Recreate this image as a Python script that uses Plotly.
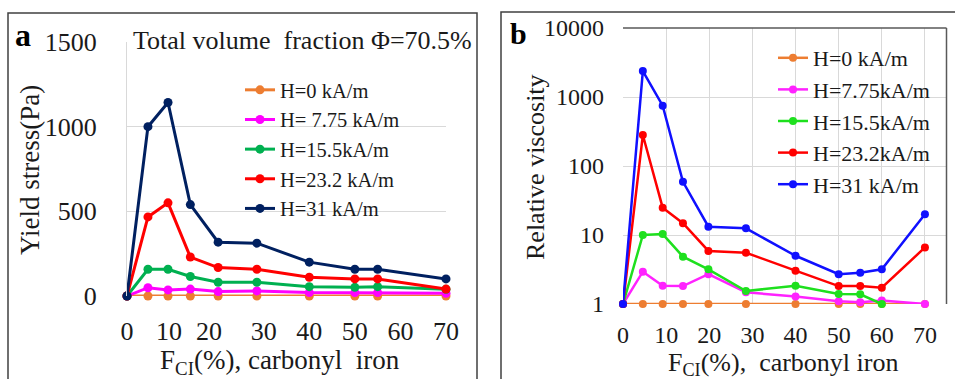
import plotly.graph_objects as go

# ---------------- data ----------------
# panel a : yield stress (Pa)
A_X = [0, 4.6, 9.0, 13.9, 20, 28.5, 40, 50, 55, 70]
A_H0 = [0, 0, 0, 0, 0, 0, 0, 0, 0, 0]
A_H775 = [0, 49, 36, 41, 26, 30, 20, 20, 20, 16]
A_H155 = [0, 158, 158, 115, 81, 81, 55, 51, 55, 40]
A_H232 = [0, 467, 550, 230, 168, 158, 111, 101, 101, 41]
A_H31 = [0, 1000, 1143, 540, 318, 312, 200, 158, 158, 101]
A_NAMES = ["H=0 kA/m", "H= 7.75 kA/m", "H=15.5kA/m", "H=23.2 kA/m", "H=31 kA/m"]
A_XTICK_VALS = [0, 9.2, 18, 30, 40, 50, 60, 70]
A_XTICK_TEXT = ["0", "10", "20", "30", "40", "50", "60", "70"]
A_YTICKS = [0, 500, 1000, 1500]

# panel b : relative viscosity
B_X = [0, 4.6, 9.2, 13.9, 19.8, 28.5, 40, 50, 55, 60, 70]
B_H0 = [1, 1, 1, 1, 1, 1, 1, 1, 1, 1, 1]
B_H775 = [1, 2.94, 1.84, 1.82, 2.7, 1.48, 1.28, 1.1, 1.06, 1.12, 1.0]
B_H155 = [1, 10, 10.3, 4.85, 3.18, 1.54, 1.84, 1.40, 1.38, 1.0, None]
B_H232 = [1, 281, 24.9, 14.8, 5.87, 5.54, 3.04, 1.82, 1.82, 1.72, 6.6]
B_H31 = [1, 2380, 748, 59, 13.2, 12.5, 5.0, 2.7, 2.84, 3.18, 20]
B_NAMES = ["H=0 kA/m", "H=7.75kA/m", "H=15.5kA/m", "H=23.2kA/m", "H=31 kA/m"]
B_XTICKS = [0, 10, 20, 30, 40, 50, 60, 70]
B_YTICKS = [1, 10, 100, 1000, 10000]

A_COLORS = ["#ED7D31", "#FF00FF", "#00B050", "#FF0000", "#002060"]
B_COLORS = ["#ED7D31", "#FF22FF", "#1EE01E", "#FF0000", "#1010FF"]

FONT = "Liberation Serif, Times New Roman, DejaVu Serif, serif"
W, H = 955, 379

fig = go.Figure()

for name, ys, col in zip(A_NAMES, [A_H0, A_H775, A_H155, A_H232, A_H31], A_COLORS):
    fig.add_trace(go.Scatter(
        x=A_X, y=ys, name=name, mode="lines+markers",
        line=dict(color=col, width=3), marker=dict(color=col, size=9),
        xaxis="x", yaxis="y", legend="legend", cliponaxis=False))

for name, ys, col in zip(B_NAMES, [B_H0, B_H775, B_H155, B_H232, B_H31], B_COLORS):
    fig.add_trace(go.Scatter(
        x=B_X, y=ys, name=name, mode="lines+markers",
        line=dict(color=col, width=2.5), marker=dict(color=col, size=8),
        xaxis="x2", yaxis="y2", legend="legend2", cliponaxis=False,
        connectgaps=False))

def px_x(p):
    return p / W

def px_y(p):
    return 1 - p / H

grid = "#d9d9d9"
tickfont_a = dict(family=FONT, size=26, color="#1a1a1a")
tickfont_b = dict(family=FONT, size=24, color="#1a1a1a")

fig.update_layout(
    width=W, height=H,
    margin=dict(l=0, r=0, t=0, b=0, pad=0, autoexpand=False),
    paper_bgcolor="white", plot_bgcolor="white",
    font=dict(family=FONT, color="black"),
    xaxis=dict(domain=[px_x(127), px_x(446)], range=[0, 70],
               tickvals=A_XTICK_VALS, ticktext=A_XTICK_TEXT,
               showgrid=False, zeroline=False, showline=False,
               ticks="", tickfont=tickfont_a, ticklabelstandoff=17),
    yaxis=dict(domain=[px_y(296), px_y(42)], range=[0, 1500],
               tickvals=A_YTICKS, showgrid=True, gridcolor=grid, gridwidth=1,
               zeroline=False, showline=True, linecolor=grid, linewidth=1,
               ticks="", tickfont=tickfont_a, ticklabelstandoff=24),
    xaxis2=dict(domain=[px_x(623), px_x(946.5)], range=[0, 75],
                tickvals=B_XTICKS, showgrid=True, gridcolor=grid, gridwidth=1,
                zeroline=False, showline=False, anchor="y2",
                ticks="", tickfont=tickfont_b, ticklabelstandoff=14),
    yaxis2=dict(domain=[px_y(304), px_y(28)], type="log", range=[0, 4],
                tickvals=B_YTICKS, ticktext=[str(v) for v in B_YTICKS],
                showgrid=True, gridcolor=grid, gridwidth=1, anchor="x2",
                zeroline=False, showline=False,
                ticks="", tickfont=tickfont_b, ticklabelstandoff=18),
    legend=dict(x=px_x(240), y=px_y(70), xanchor="left", yanchor="top",
                bgcolor="rgba(0,0,0,0)", borderwidth=0,
                font=dict(family=FONT, size=20.5, color="#1a1a1a")),
    legend2=dict(x=px_x(773), y=px_y(37), xanchor="left", yanchor="top",
                 bgcolor="rgba(0,0,0,0)", borderwidth=0,
                 font=dict(family=FONT, size=22, color="#1a1a1a")),
    showlegend=True,
)

box_col = "#404040"
shapes = [
    dict(type="rect", xref="paper", yref="paper",
         x0=px_x(8), x1=px_x(477), y0=-0.2, y1=px_y(13),
         line=dict(color=box_col, width=1.5), layer="above"),
    dict(type="rect", xref="paper", yref="paper",
         x0=px_x(501), x1=1.2, y0=-0.2, y1=px_y(12),
         line=dict(color=box_col, width=1.5), layer="above"),
    dict(type="line", xref="x2 domain", yref="y2 domain",
         x0=0, x1=1, y0=1, y1=1, line=dict(color="#595959", width=1.5)),
    dict(type="line", xref="x2 domain", yref="y2 domain",
         x0=1, x1=1, y0=0, y1=1, line=dict(color="#595959", width=1.5)),
]
fig.update_layout(shapes=shapes)

def label(text, x, y, size, angle=0, color="#1a1a1a"):
    return dict(text=text, x=px_x(x), y=px_y(y), xref="paper", yref="paper",
                xanchor="center", yanchor="middle", textangle=angle,
                showarrow=False, font=dict(family=FONT, size=size, color=color))

ann = [
    label("<b>a</b>", 23, 35, 32, color="black"),
    label("<b>b</b>", 518, 33, 30, color="black"),
    label("Total volume\u00a0 fraction \u03a6=70.5%", 302, 41, 26),
    label("Yield stress(Pa)", 30, 170, 27, angle=-90),
    label("Relative viscosity", 535, 167, 26, angle=-90),
    label("F<sub>CI</sub>(%), carbonyl\u00a0 iron", 280, 362, 27),
    label("F<sub>CI</sub>(%),\u00a0 carbonyl iron", 783, 364, 26),
]
fig.update_layout(annotations=ann)

fig.write_html("out.html",
               config={"displayModeBar": False},
               post_script="document.body.style.margin='0';document.body.style.overflow='hidden';")
